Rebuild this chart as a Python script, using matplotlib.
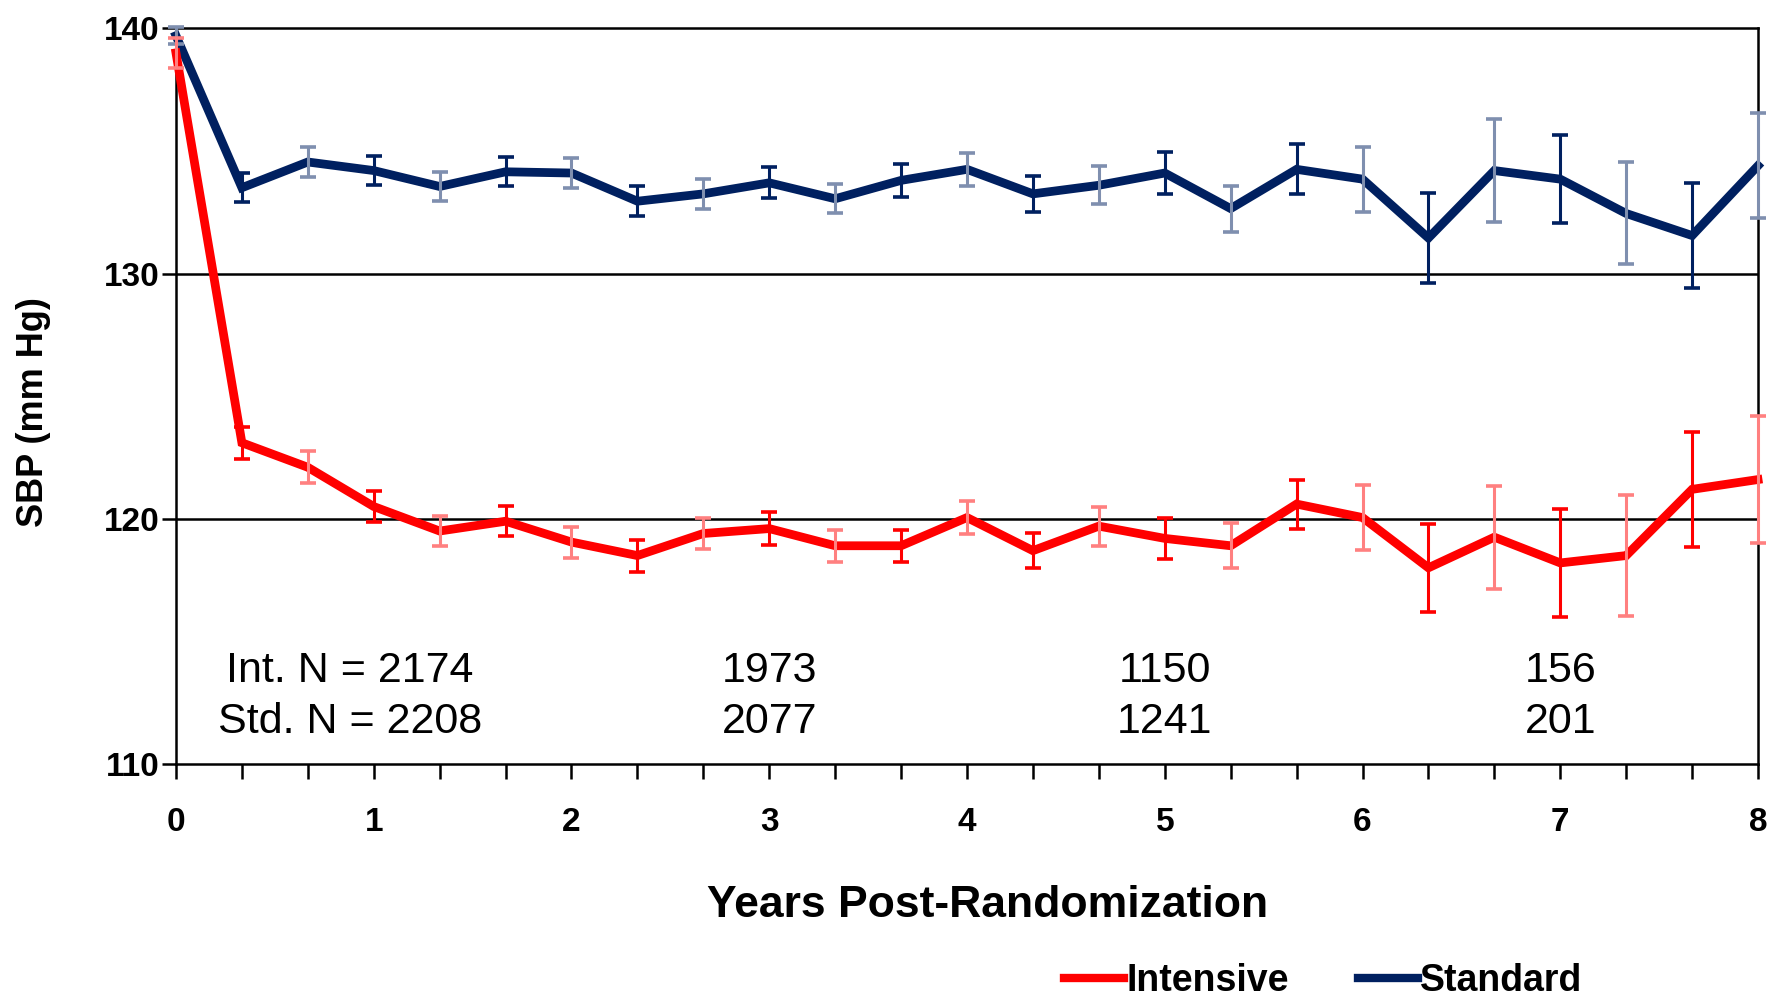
import matplotlib.pyplot as plt
import numpy as np

# visit times in months after randomization (every 4 months)
months = [0, 4, 8, 12, 16, 20, 24, 28, 32, 36, 40, 44, 48,
          52, 56, 60, 64, 68, 72, 76, 80, 84, 88, 92, 96]

intensive = [139.0, 123.1, 122.1, 120.5, 119.5, 119.9, 119.05, 118.5, 119.4, 119.6, 118.9, 118.9, 120.05,
             118.7, 119.7, 119.2, 118.9, 120.6, 120.05, 118.0, 119.25, 118.2, 118.5, 121.2, 121.6]
intensive_err = [0.6, 0.65, 0.65, 0.63, 0.63, 0.62, 0.63, 0.65, 0.65, 0.66, 0.66, 0.66, 0.67,
                 0.7, 0.8, 0.82, 0.92, 1.0, 1.34, 1.8, 2.1, 2.2, 2.45, 2.35, 2.6]

standard = [139.7, 133.5, 134.55, 134.2, 133.55, 134.15, 134.1, 132.95, 133.25, 133.7, 133.05, 133.8, 134.25,
            133.25, 133.6, 134.1, 132.65, 134.25, 133.85, 131.45, 134.2, 133.85, 132.45, 131.55, 134.4]
standard_err = [0.35, 0.6, 0.6, 0.59, 0.58, 0.59, 0.62, 0.61, 0.61, 0.63, 0.6, 0.66, 0.66,
                0.73, 0.78, 0.86, 0.94, 1.02, 1.33, 1.83, 2.1, 1.8, 2.08, 2.15, 2.13]

# sample sizes shown under the curves
n_years = [0.88, 3, 5, 7]
n_int = ['Int. N = 2174', '1973', '1150', '156']
n_std = ['Std. N = 2208', '2077', '1241', '201']

red = '#FF0000'
red_light = '#FF8080'
navy = '#002060'
navy_light = '#7F8FAF'

plt.rcParams['font.family'] = ['Liberation Sans', 'DejaVu Sans']

years = np.array(months) / 12.0

fig = plt.figure(figsize=(17.81, 10.05), dpi=100)
ax = fig.add_axes([0.0988, 0.2398, 0.8883, 0.732])

ax.set_xlim(0, 8)
ax.set_ylim(110, 140)

# horizontal reference lines
for yv in [120, 130]:
    ax.axhline(yv, color='black', lw=1.8, zorder=1)

ax.plot(years, standard, color=navy, lw=6.3, solid_joinstyle='miter', zorder=3, clip_on=False)
ax.plot(years, intensive, color=red, lw=6.3, solid_joinstyle='miter', zorder=3, clip_on=False)


def draw_errors(vals, errs, dark, light):
    # every other bar has a lighter stem, caps stay dark
    for i in range(len(vals)):
        stem = dark if i % 2 == 1 else light
        eb = ax.errorbar(years[i], vals[i], yerr=errs[i], fmt='none', ecolor=stem,
                         elinewidth=2.2, capsize=5.5, capthick=2.6, zorder=4)
        for cap in eb[1]:
            cap.set_color(dark)
            cap.set_clip_on(False)
        for ln in eb[2]:
            ln.set_clip_on(False)


draw_errors(standard, standard_err, navy, navy_light)
draw_errors(intensive, intensive_err, red, red_light)

# N annotations
for xv, ti, ts in zip(n_years, n_int, n_std):
    ax.text(xv, 113.8, ti, ha='center', va='center', fontsize=31, color='black')
    ax.text(xv, 111.7, ts, ha='center', va='center', fontsize=31, color='black')

# axes styling
for side in ['left', 'right', 'top', 'bottom']:
    ax.spines[side].set_linewidth(1.8)
    ax.spines[side].set_color('black')

ax.set_yticks([110, 120, 130, 140])
ax.set_xticks(range(0, 9))
ax.set_xticks(years, minor=True)
ax.tick_params(axis='y', direction='out', length=10, width=1.8, pad=2, labelsize=24)
ax.tick_params(axis='x', which='both', direction='out', length=11, width=1.8)
ax.tick_params(axis='x', which='major', pad=20, labelsize=24)
for lab in ax.get_xticklabels() + ax.get_yticklabels():
    lab.set_fontweight('bold')

ax.set_xlabel('Years Post-Randomization', fontsize=32, fontweight='bold')
ax.xaxis.set_label_coords(0.513, -0.165)

fig.text(0.019, 0.59, 'SBP (mm Hg)', rotation=90, ha='center', va='center',
         fontsize=26, fontweight='bold')

# legend
h1, = ax.plot([], [], color=red, lw=6)
h2, = ax.plot([], [], color=navy, lw=6)
fig.legend([h1, h2], ['Intensive', 'Standard'], loc='center', bbox_to_anchor=(0.743, 0.024),
           ncol=2, frameon=False, handlelength=1.6, handletextpad=0.05, columnspacing=1.85,
           borderpad=0.1, prop={'weight': 'bold', 'size': 27})

fig.savefig('out.png', dpi=100)
